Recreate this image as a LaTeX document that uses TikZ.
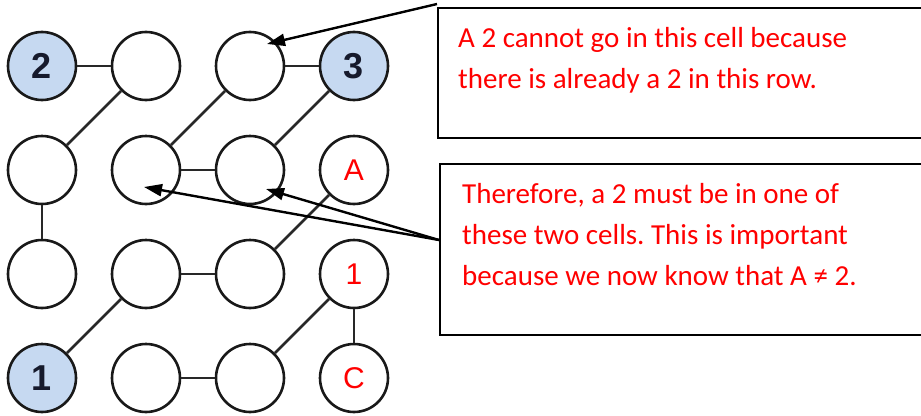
\documentclass[tikz,border=0pt]{standalone}
\usepackage{fontspec}
\setmainfont{Carlito}
\newfontfamily\cellfont{Liberation Sans}
\usetikzlibrary{arrows.meta}
\definecolor{givenblue}{RGB}{198,217,241}
\definecolor{givenink}{RGB}{22,26,44}
\definecolor{linkgray}{RGB}{40,40,40}
\frenchspacing
\tikzset{
  cell/.style={circle, draw=black!90, line width=2.6pt, fill=white,
    minimum size=68pt, inner sep=0pt},
  given/.style={cell, fill=givenblue, text=givenink,
    font=\cellfont\bfseries\fontsize{36}{36}\selectfont},
  clue/.style={cell, text=red, font=\cellfont\fontsize{30}{30}\selectfont},
  link/.style={draw=linkgray, line width=2.6pt},
  notebox/.style={draw=black, line width=2.2pt, anchor=north west, inner sep=0pt},
  notetext/.style={anchor=north west, inner sep=0pt, align=left, text=red,
    font=\fontsize{29}{41}\selectfont},
  pointer/.style={draw=black, line width=2.4pt,
    -{Triangle[length=18pt, width=12pt]}},
}
\begin{document}
\begin{tikzpicture}[x=1pt, y=-1pt]
\useasboundingbox (0,0) rectangle (921,415);

% cells of the grid, row by row
\node[given] (c11) at (42,66)  {2};
\node[cell]  (c12) at (146,66) {};
\node[cell]  (c13) at (250,66) {};
\node[given] (c14) at (354,66) {3};

\node[cell]  (c21) at (42,170)  {};
\node[cell]  (c22) at (146,170) {};
\node[cell]  (c23) at (250,170) {};
\node[clue]  (c24) at (354,170) {A};

\node[cell]  (c31) at (42,274)  {};
\node[cell]  (c32) at (146,274) {};
\node[cell]  (c33) at (250,274) {};
\node[clue]  (c34) at (354,274) {1};

\node[given] (c41) at (42,378)  {1};
\node[cell]  (c42) at (146,378) {};
\node[cell]  (c43) at (250,378) {};
\node[clue]  (c44) at (354,378) {C};

% links between cells
\draw[link] (c11) -- (c12);
\draw[link] (c12) -- (c21);
\draw[link] (c13) -- (c14);
\draw[link] (c13) -- (c22);
\draw[link] (c14) -- (c23);
\draw[link] (c22) -- (c23);
\draw[link] (c21) -- (c31);
\draw[link] (c24) -- (c33);
\draw[link] (c32) -- (c33);
\draw[link] (c32) -- (c41);
\draw[link] (c34) -- (c43);
\draw[link] (c34) -- (c44);
\draw[link] (c42) -- (c43);

% explanation boxes
\node[notebox, minimum width=500pt, minimum height=130pt] (b1) at (437,7) {};
\node[notetext] (n1) at (458,27)
  {A 2 cannot go in this cell because\\there is already a 2 in this row.};

\node[notebox, minimum width=500pt, minimum height=171pt] (b2) at (439,163) {};
\node[notetext] (n2) at (462,183)
  {Therefore, a 2 must be in one of\\these two cells. This is important\\because we now know that A ≠ 2.};

% pointers from the boxes into the cells
\coordinate (s1) at (437,4);
\coordinate (s2) at (439,240);
\coordinate (t1) at (267,44);
\coordinate (t2) at (144,187);
\coordinate (t3) at (266,189);
\draw[pointer] (s1) -- (t1);
\draw[pointer] (s2) -- (t2);
\draw[pointer] (s2) -- (t3);
\end{tikzpicture}
\end{document}
